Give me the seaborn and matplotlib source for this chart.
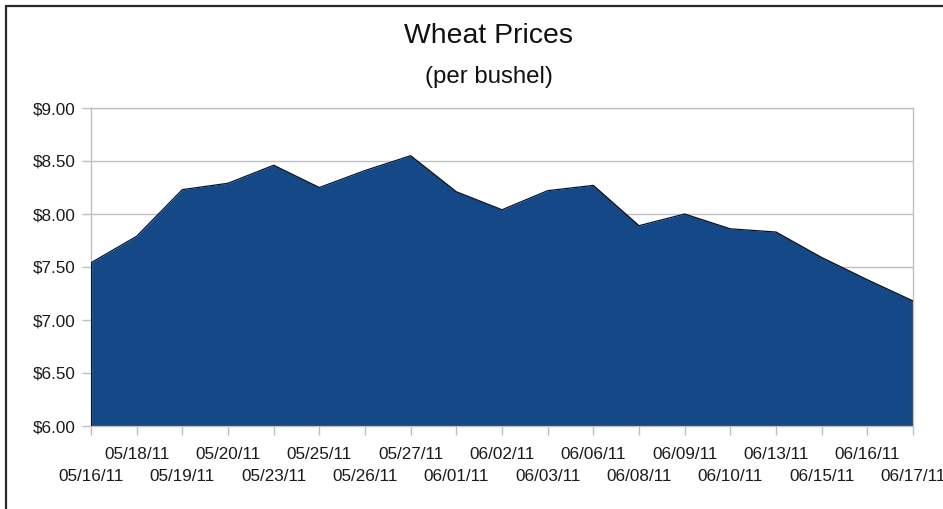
import matplotlib
matplotlib.use("Agg")
import matplotlib.pyplot as plt
import matplotlib.patches as mpatches
import pandas as pd
import seaborn as sns

dates = ["05/16/11", "05/18/11", "05/19/11", "05/20/11", "05/23/11", "05/25/11",
         "05/26/11", "05/27/11", "06/01/11", "06/02/11", "06/03/11", "06/06/11",
         "06/08/11", "06/09/11", "06/10/11", "06/13/11", "06/15/11", "06/16/11",
         "06/17/11"]
prices = [7.54, 7.79, 8.23, 8.29, 8.46, 8.25, 8.41, 8.55, 8.21, 8.04, 8.22, 8.27,
          7.89, 8.00, 7.86, 7.83, 7.59, 7.38, 7.18]
y_ticks = [6.0, 6.5, 7.0, 7.5, 8.0, 8.5, 9.0]

if __name__ == "__main__":
    df = pd.DataFrame({"idx": range(len(dates)), "date": dates, "price": prices})

    sns.set_theme(style="white")
    plt.rcParams["font.family"] = ["Liberation Sans", "DejaVu Sans"]

    W, H = 943, 509
    fig = plt.figure(figsize=(W / 100, H / 100), dpi=100)
    ax = fig.add_axes([91 / W, 83 / H, (913 - 91) / W, (426 - 108) / H])

    fill_col = "#154887"
    grey = "#c0c0c0"

    ax.fill_between(df["idx"], 6.0, df["price"], color=fill_col, linewidth=0, zorder=2)
    sns.lineplot(data=df, x="idx", y="price", color="#111111", linewidth=0.9, ax=ax, zorder=3)
    ax.plot([0, 0], [6.0, prices[0]], color="#111111", lw=0.9, zorder=3)
    ax.plot([len(dates) - 1] * 2, [6.0, prices[-1]], color="#111111", lw=0.9, zorder=3)
    ax.plot([0, len(dates) - 1], [6.0, 6.0], color="#111111", lw=0.9, zorder=3)

    ax.set_xlim(0, len(dates) - 1)
    ax.set_ylim(6.0, 9.0)
    ax.set_yticks(y_ticks)
    ax.set_yticklabels(["${:.2f}".format(v) for v in y_ticks])
    ax.set_xticks(range(len(dates)))
    ax.set_xticklabels(dates)
    ax.set_xlabel("")
    ax.set_ylabel("")

    ax.yaxis.grid(True, color=grey, linewidth=1, zorder=0)
    ax.set_axisbelow(True)
    for s in ax.spines.values():
        s.set_color(grey)
        s.set_linewidth(1)

    ax.tick_params(axis="y", which="major", left=True, length=6.5, width=1, color=grey,
                   pad=4.3, labelsize=12.3, labelcolor="#1a1a1a")
    ax.tick_params(axis="x", which="major", bottom=True, length=6.5, width=1, color=grey,
                   pad=8.8, labelsize=12.3, labelcolor="#1a1a1a")
    # staggered labels: even ticks go on the lower row
    for i, t in enumerate(ax.xaxis.get_major_ticks()):
        if i % 2 == 0:
            t.set_pad(24.6)

    fig.text(488.5 / W, 1 - 43 / H, "Wheat Prices", ha="center", va="baseline",
             fontsize=20.4, color="#111111")
    fig.text(488.5 / W, 1 - 83 / H, "(per bushel)", ha="center", va="baseline",
             fontsize=17.3, color="#111111")

    border = mpatches.Rectangle((6 / W, -0.1), 1.2, 1 - 6 / H + 0.1, fill=False,
                                edgecolor="#2a2a2a", linewidth=1.6,
                                transform=fig.transFigure, clip_on=False)
    fig.add_artist(border)

    plt.savefig("out.png", dpi=100)
